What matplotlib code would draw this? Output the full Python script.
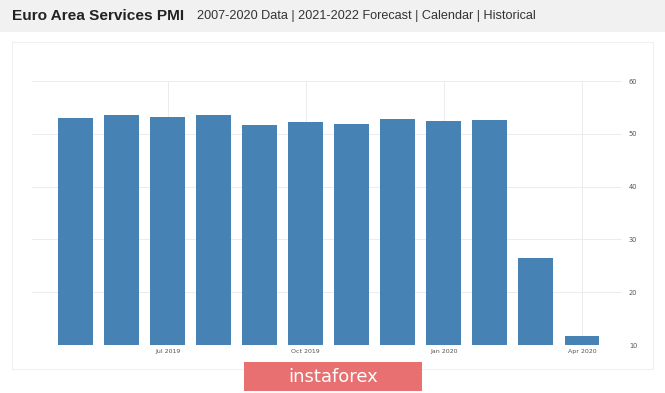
import matplotlib
matplotlib.use("Agg")
import matplotlib.pyplot as plt
from matplotlib.patches import Rectangle

# Data
months = ["May 2019", "Jun 2019", "Jul 2019", "Aug 2019", "Sep 2019", "Oct 2019",
          "Nov 2019", "Dec 2019", "Jan 2020", "Feb 2020", "Mar 2020", "Apr 2020"]
pmi = [52.9, 53.6, 53.2, 53.5, 51.6, 52.2, 51.9, 52.8, 52.5, 52.6, 26.4, 11.7]
xtick_labels = ["Jul 2019", "Oct 2019", "Jan 2020", "Apr 2020"]
ytick_values = [10, 20, 30, 40, 50, 60]

W, H = 665, 393
fig = plt.figure(figsize=(W / 100, H / 100), dpi=100)
fig.patch.set_facecolor("white")

def fx(px):
    return px / W

def fy(py):
    return 1 - py / H

# Header bar
fig.patches.append(Rectangle((0, fy(32)), 1, 32 / H, transform=fig.transFigure,
                             facecolor="#f1f1f1", edgecolor="none", zorder=0))
fig.text(fx(12), fy(16), "Euro Area Services PMI", fontsize=11.1, fontweight="bold",
         family="Liberation Sans", color="#222222", va="center", ha="left")
fig.text(fx(197), fy(16), "2007-2020 Data | 2021-2022 Forecast | Calendar | Historical",
         fontsize=9.05, family="Liberation Sans", color="#333333", va="center", ha="left")

# Chart container border
fig.patches.append(Rectangle((fx(12), fy(369)), fx(653) - fx(12), fy(42) - fy(369),
                             transform=fig.transFigure, facecolor="none",
                             edgecolor="#f0f0f0", linewidth=0.8, zorder=0))

# Axes placement (pixel-based)
left_px, right_px, top_px, bottom_px = 32, 622, 81, 345
ax = fig.add_axes([fx(left_px), fy(bottom_px), (right_px - left_px) / W,
                   (bottom_px - top_px) / H])
ax.set_facecolor("none")

x = list(range(len(months)))
ax.bar(x, pmi, width=0.76, color="#4682b4", zorder=3, bottom=0)

first_c, last_c = 75.5, 582.0
step = (last_c - first_c) / (len(months) - 1)
ax.set_xlim(-(first_c - left_px) / step, (len(months) - 1) + (right_px - last_c) / step)
ax.set_ylim(10, 60)

tick_pos = [months.index(m) for m in xtick_labels]
ax.set_xticks(tick_pos)
ax.set_xticklabels(xtick_labels, fontsize=4.5, color="#555555", family="DejaVu Sans")
ax.set_yticks(ytick_values)
ax.set_yticklabels([str(v) for v in ytick_values], fontsize=4.8, color="#555555",
                   family="DejaVu Sans")
ax.yaxis.tick_right()
ax.tick_params(axis="both", length=0)
ax.tick_params(axis="y", pad=5)
ax.tick_params(axis="x", pad=3)

ax.grid(True, color="#ececec", linewidth=0.7, zorder=0)
for s in ax.spines.values():
    s.set_visible(False)

# Watermark
fig.patches.append(Rectangle((fx(244), fy(391)), fx(422) - fx(244), fy(362) - fy(391),
                             transform=fig.transFigure, facecolor="#e87070",
                             edgecolor="none", zorder=5))
fig.text(fx(333), fy(376.5), "instaforex", fontsize=13, color="white",
         family="DejaVu Sans", va="center", ha="center", zorder=6)

fig.savefig("out.png", dpi=100)
